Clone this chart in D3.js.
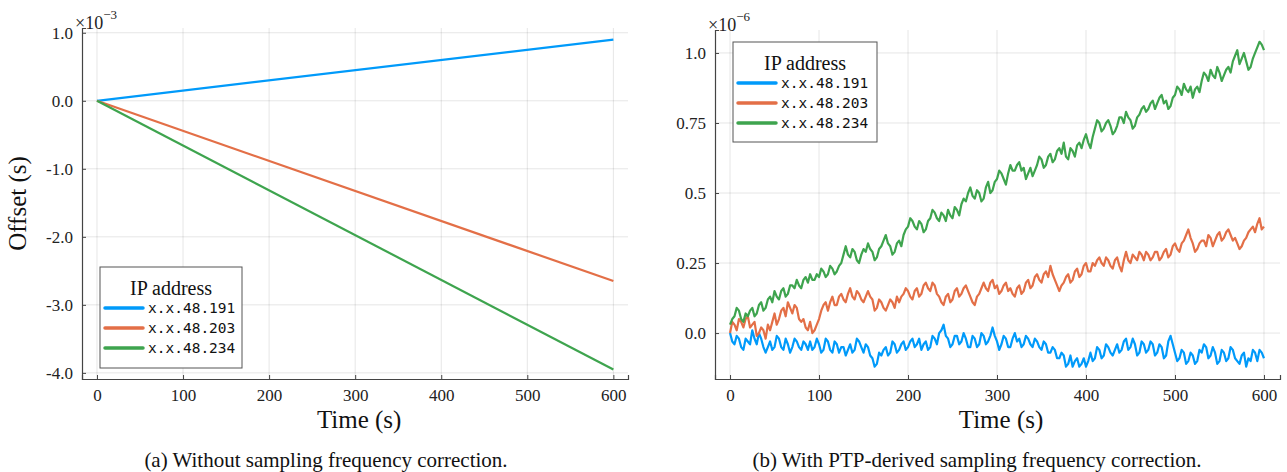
<!DOCTYPE html>
<html><head><meta charset="utf-8">
<script src="https://cdn.jsdelivr.net/npm/d3@7"></script>
<style>body{margin:0;background:#fff}svg{display:block}</style>
</head><body>
<svg id="c" width="1287" height="472"></svg>
<script>
// ---- data ----
const seriesNames = ["x.x.48.191", "x.x.48.203", "x.x.48.234"];
const colors = ["#009AFA", "#E36F47", "#3EA44E"];
// panel (a): offsets in units of 1e-3 s, straight drifts
const timeA = [0, 600];
const offA191 = [0, 0.90];
const offA203 = [0, -2.65];
const offA234 = [0, -3.95];
// panel (b): offsets in units of 1e-6 s
// values read at t = 0, 5, ..., 600 s
const offB191 = [0.00,-0.04,-0.02,-0.06,-0.03,0.01,-0.04,-0.02,-0.07,-0.03,-0.05,-0.02,-0.06,-0.04,-0.05,-0.03,-0.06,-0.04,-0.03,-0.05,
-0.04,-0.06,-0.03,-0.07,-0.04,-0.05,-0.08,-0.04,-0.06,-0.03,-0.07,-0.05,-0.09,-0.11,-0.08,-0.05,-0.07,-0.04,-0.06,-0.03,
-0.05,-0.02,-0.04,-0.06,-0.03,-0.05,-0.02,0.00,0.03,-0.02,-0.04,-0.01,-0.03,-0.02,-0.05,-0.02,-0.04,-0.01,-0.03,0.02,
-0.03,-0.04,-0.02,-0.05,0.00,-0.02,-0.04,-0.02,-0.05,-0.03,-0.06,-0.04,-0.07,-0.06,-0.09,-0.08,-0.11,-0.12,-0.09,-0.11,
-0.12,-0.07,-0.09,-0.06,-0.08,-0.05,-0.08,-0.04,-0.06,-0.02,-0.05,-0.04,-0.07,-0.04,-0.06,-0.04,-0.07,-0.05,-0.08,-0.01,
-0.07,-0.09,-0.07,-0.10,-0.08,-0.10,-0.07,-0.05,-0.08,-0.07,-0.10,-0.07,-0.09,-0.06,-0.10,-0.08,-0.12,-0.10,-0.07,-0.06,-0.09];
// values read at t = 2.5, 7.5, ..., 597.5 s
const offB191Mid = [-0.03,-0.01,-0.05,-0.02,-0.04,-0.02,0.00,-0.05,-0.05,-0.06,-0.01,-0.05,-0.02,-0.07,-0.02,-0.05,-0.03,-0.06,-0.06,-0.02,
-0.07,-0.02,-0.06,-0.03,-0.07,-0.05,-0.06,-0.07,-0.02,-0.05,-0.04,-0.08,-0.12,-0.07,-0.06,-0.08,-0.03,-0.07,-0.04,-0.06,
-0.03,-0.05,-0.02,-0.04,-0.06,-0.01,-0.04,0.01,-0.01,-0.05,-0.01,-0.04,0.00,-0.05,-0.01,-0.05,0.00,-0.04,-0.01,-0.01,
-0.06,-0.01,-0.05,-0.02,-0.03,-0.05,-0.01,-0.04,-0.02,-0.05,-0.03,-0.07,-0.05,-0.09,-0.07,-0.12,-0.08,-0.10,-0.12,-0.09,
-0.10,-0.10,-0.05,-0.09,-0.04,-0.07,-0.06,-0.07,-0.03,-0.06,-0.02,-0.08,-0.03,-0.07,-0.03,-0.08,-0.04,-0.09,-0.03,-0.04,
-0.10,-0.06,-0.11,-0.07,-0.11,-0.06,-0.04,-0.09,-0.05,-0.11,-0.06,-0.10,-0.05,-0.09,-0.11,-0.07,-0.09,-0.06,-0.10,-0.07];
const offB203 = [0.00,0.03,0.05,0.02,0.06,0.03,-0.01,0.02,-0.02,0.01,0.07,0.05,0.09,0.11,0.07,0.09,0.04,0.02,0.04,0.01,
0.05,0.10,0.08,0.13,0.10,0.14,0.11,0.16,0.12,0.14,0.11,0.15,0.12,0.09,0.11,0.08,0.12,0.09,0.11,0.14,
0.15,0.12,0.16,0.14,0.18,0.15,0.17,0.13,0.10,0.14,0.12,0.16,0.14,0.17,0.13,0.10,0.14,0.18,0.15,0.19,
0.17,0.15,0.18,0.16,0.13,0.17,0.15,0.19,0.17,0.21,0.18,0.22,0.24,0.19,0.15,0.18,0.21,0.19,0.23,0.21,
0.25,0.22,0.24,0.27,0.24,0.26,0.23,0.27,0.22,0.29,0.25,0.27,0.29,0.26,0.28,0.27,0.29,0.27,0.30,0.28,
0.32,0.29,0.33,0.37,0.32,0.30,0.33,0.31,0.34,0.33,0.36,0.34,0.37,0.33,0.32,0.31,0.34,0.37,0.36,0.41,0.38];
const offB203Mid = [0.04,0.01,0.04,0.05,0.02,0.04,0.00,0.01,0.03,0.04,0.03,0.08,0.06,0.09,0.10,0.05,0.05,0.01,0.00,0.03,
0.08,0.11,0.11,0.10,0.13,0.12,0.14,0.13,0.15,0.12,0.13,0.13,0.08,0.12,0.09,0.10,0.11,0.13,0.13,0.16,
0.13,0.15,0.13,0.17,0.16,0.18,0.14,0.11,0.13,0.11,0.15,0.13,0.16,0.15,0.11,0.13,0.16,0.16,0.18,0.16,
0.14,0.17,0.15,0.14,0.16,0.14,0.18,0.16,0.20,0.19,0.21,0.20,0.21,0.17,0.17,0.20,0.18,0.22,0.20,0.24,
0.22,0.25,0.26,0.25,0.27,0.24,0.26,0.24,0.26,0.26,0.28,0.26,0.28,0.29,0.26,0.29,0.26,0.29,0.27,0.31,
0.30,0.32,0.35,0.34,0.29,0.32,0.33,0.35,0.31,0.35,0.33,0.36,0.35,0.34,0.30,0.33,0.36,0.38,0.39,0.37];
const offB234 = [0.03,0.06,0.08,0.04,0.06,0.09,0.07,0.11,0.09,0.13,0.15,0.12,0.16,0.14,0.17,0.19,0.16,0.20,0.21,0.19,
0.20,0.22,0.21,0.23,0.22,0.25,0.31,0.27,0.29,0.25,0.30,0.32,0.29,0.27,0.31,0.35,0.31,0.29,0.33,0.35,
0.38,0.40,0.37,0.39,0.37,0.41,0.43,0.40,0.42,0.44,0.41,0.44,0.46,0.47,0.52,0.48,0.50,0.48,0.54,0.51,
0.55,0.57,0.53,0.60,0.58,0.61,0.59,0.57,0.56,0.60,0.62,0.60,0.64,0.62,0.66,0.68,0.62,0.65,0.67,0.66,
0.71,0.66,0.73,0.75,0.73,0.76,0.71,0.74,0.77,0.79,0.76,0.74,0.78,0.81,0.80,0.83,0.82,0.85,0.83,0.81,
0.85,0.87,0.89,0.86,0.84,0.88,0.90,0.92,0.94,0.91,0.93,0.92,0.95,0.97,1.01,0.98,0.97,0.95,1.00,1.04,1.01];
const offB234Mid = [0.05,0.09,0.05,0.07,0.08,0.06,0.10,0.08,0.12,0.11,0.13,0.15,0.13,0.17,0.16,0.17,0.19,0.18,0.19,0.21,
0.23,0.20,0.24,0.21,0.24,0.28,0.28,0.30,0.26,0.28,0.29,0.30,0.26,0.30,0.33,0.32,0.28,0.32,0.31,0.37,
0.41,0.38,0.40,0.36,0.40,0.44,0.41,0.43,0.40,0.42,0.45,0.42,0.48,0.50,0.49,0.51,0.47,0.52,0.50,0.54,
0.58,0.55,0.57,0.58,0.60,0.58,0.55,0.59,0.58,0.63,0.59,0.63,0.61,0.65,0.64,0.63,0.66,0.63,0.68,0.69,
0.68,0.70,0.76,0.72,0.75,0.74,0.72,0.77,0.75,0.77,0.73,0.77,0.80,0.79,0.82,0.80,0.84,0.82,0.80,0.84,
0.88,0.85,0.87,0.88,0.87,0.86,0.93,0.90,0.92,0.95,0.90,0.94,0.93,0.99,0.96,1.00,0.94,0.98,1.02,1.03];
const xTicks = [0, 100, 200, 300, 400, 500, 600];
const yTicksA = [1.0, 0.0, -1.0, -2.0, -3.0, -4.0];
const yTicksB = [0.0, 0.25, 0.5, 0.75, 1.0];
const yTickLabelsB = ["0.0", "0.25", "0.5", "0.75", "1.0"];
const captions = ["(a) Without sampling frequency correction.", "(b) With PTP-derived sampling frequency correction."];

// merge the 5 s samples with the in-between 2.5 s samples
function mergeB(main, mid) {
  const out = [];
  main.forEach((v, i) => {
    out.push([i * 5, v]);
    if (i < mid.length) out.push([i * 5 + 2.5, mid[i]]);
  });
  return out;
}
const seriesA = [offA191, offA203, offA234].map(s => timeA.map((t, j) => [t, s[j]]));
const seriesB = [mergeB(offB191, offB191Mid), mergeB(offB203, offB203Mid), mergeB(offB234, offB234Mid)];

const svg = d3.select("#c");
const SERIF = "'Liberation Serif', 'Times New Roman', serif";
const MONO = "'DejaVu Sans Mono', monospace";

function panel(cfg) {
  const x = d3.scaleLinear().domain(cfg.xDom).range([cfg.left, cfg.right]);
  const y = d3.scaleLinear().domain(cfg.yDom).range([cfg.bottom, cfg.top]);
  const g = svg.append("g");
  // grid
  g.selectAll(".gx").data(xTicks).join("line")
    .attr("x1", d => x(d)).attr("x2", d => x(d)).attr("y1", cfg.top).attr("y2", cfg.bottom)
    .attr("stroke", "#000").attr("stroke-opacity", 0.1).attr("stroke-width", 1);
  g.selectAll(".gy").data(cfg.yTicks).join("line")
    .attr("x1", cfg.left).attr("x2", cfg.right).attr("y1", d => y(d)).attr("y2", d => y(d))
    .attr("stroke", "#000").attr("stroke-opacity", 0.1).attr("stroke-width", 1);
  // axes
  const ax = g.append("g").attr("transform", `translate(0,${cfg.bottom})`)
    .call(d3.axisBottom(x).tickValues(xTicks).tickSize(-4).tickPadding(10).tickFormat(d => String(d)));
  const ay = g.append("g").attr("transform", `translate(${cfg.left},0)`)
    .call(d3.axisLeft(y).tickValues(cfg.yTicks).tickSize(-4).tickPadding(9).tickFormat(cfg.fmt));
  [ax, ay].forEach(a => {
    a.select(".domain").attr("stroke", "#444").attr("stroke-width", 1.2);
    a.selectAll(".tick line").attr("stroke", "#444");
    a.selectAll(".tick text").attr("font-family", SERIF).attr("font-size", 17).attr("fill", "#222");
  });
  // lines
  const line = d3.line().x(d => x(d[0])).y(d => y(d[1]));
  cfg.series.forEach((s, i) => {
    g.append("path").datum(s)
      .attr("d", line).attr("fill", "none").attr("stroke", colors[i])
      .attr("stroke-width", 2.2).attr("stroke-linejoin", "round");
  });
  // multiplier
  const m = g.append("text").attr("x", cfg.multX).attr("y", cfg.top + 1)
    .attr("font-family", SERIF).attr("font-size", 18).attr("fill", "#222");
  m.append("tspan").text("×10");
  m.append("tspan").attr("dy", -10).attr("font-size", 13).text(cfg.exp);
  // legend
  const L = cfg.legend;
  const lg = g.append("g").attr("transform", `translate(${L.x},${L.y})`);
  lg.append("rect").attr("width", L.w).attr("height", L.h).attr("fill", "#fff")
    .attr("stroke", "#555").attr("stroke-width", 1);
  lg.append("text").attr("x", L.w / 2).attr("y", 28).attr("text-anchor", "middle")
    .attr("font-family", SERIF).attr("font-size", 20).attr("fill", "#111").text("IP address");
  seriesNames.forEach((n, i) => {
    const yy = 41 + i * 20;
    lg.append("line").attr("x1", 5).attr("x2", 43).attr("y1", yy).attr("y2", yy)
      .attr("stroke", colors[i]).attr("stroke-width", 3.5).attr("stroke-linecap", "round");
    lg.append("text").attr("x", 48).attr("y", yy + 5).attr("font-family", MONO)
      .attr("font-size", 14.5).attr("fill", "#111").text(n);
  });
  // axis labels
  g.append("text").attr("x", (x(0) + x(600)) / 2 + 4).attr("y", 428).attr("text-anchor", "middle")
    .attr("font-family", SERIF).attr("font-size", 25).attr("fill", "#111").text("Time (s)");
  if (cfg.ylabel) {
    g.append("text").attr("transform", `translate(26,${(cfg.top + cfg.bottom) / 2}) rotate(-90)`)
      .attr("text-anchor", "middle").attr("font-family", SERIF).attr("font-size", 25)
      .attr("fill", "#111").text(cfg.ylabel);
  }
  g.append("text").attr("x", cfg.capX).attr("y", 467).attr("text-anchor", "middle")
    .attr("font-family", SERIF).attr("font-size", 21).attr("fill", "#111").text(cfg.caption);
}

panel({
  left: 82, right: 628, top: 28, bottom: 379,
  xDom: [-17.4, 617], yDom: [-4.09, 1.07], yTicks: yTicksA, fmt: d => d.toFixed(1),
  series: seriesA, exp: "−3", multX: 75,
  legend: { x: 100, y: 267, w: 142, h: 101 }, ylabel: "Offset (s)",
  caption: captions[0], capX: 326
});
panel({
  left: 715, right: 1280, top: 30, bottom: 379,
  xDom: [-16.9, 618], yDom: [-0.164, 1.082], yTicks: yTicksB,
  fmt: d => yTickLabelsB[yTicksB.indexOf(d)],
  series: seriesB, exp: "−6", multX: 708,
  legend: { x: 733, y: 42, w: 144, h: 100 }, ylabel: null,
  caption: captions[1], capX: 977
});
</script>
</body></html>
